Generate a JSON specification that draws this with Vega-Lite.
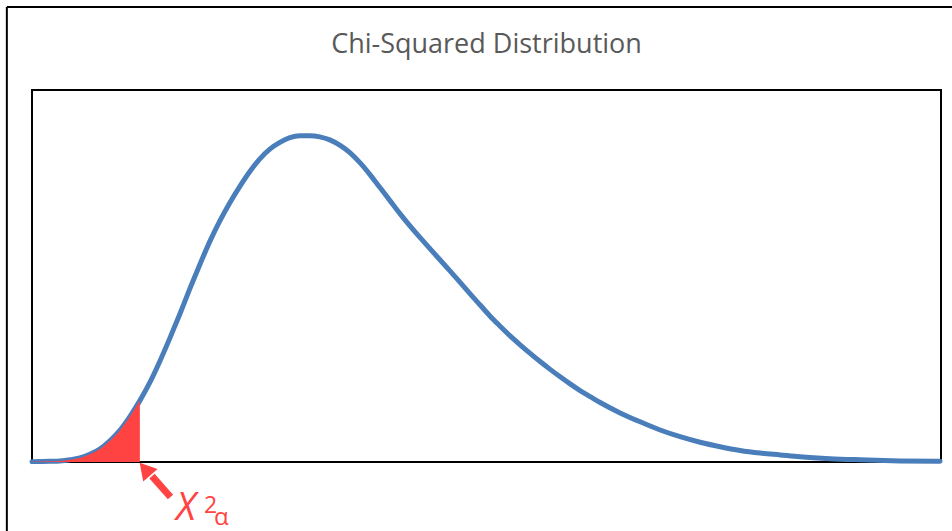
{
  "$schema": "https://vega.github.io/schema/vega-lite/v6.json",
  "autosize": "none",
  "width": 909,
  "height": 372,
  "padding": {"left": 32, "top": 90, "right": 11, "bottom": 69},
  "background": "white",
  "config": {
    "view": {"stroke": "#000000", "strokeWidth": 2},
    "axis": {"disable": true}
  },
  "datasets": {
    "curve": [
      {"x": 0, "y": 0.0001}, {"x": 0.59, "y": 0.0002}, {"x": 0.92, "y": 0.0003},
      {"x": 1.25, "y": 0.0006}, {"x": 1.58, "y": 0.0011}, {"x": 1.91, "y": 0.0021},
      {"x": 2.24, "y": 0.0035}, {"x": 2.57, "y": 0.0057}, {"x": 2.9, "y": 0.0085},
      {"x": 3.23, "y": 0.0122}, {"x": 3.56, "y": 0.0165}, {"x": 3.89, "y": 0.0214},
      {"x": 4.22, "y": 0.0271}, {"x": 4.55, "y": 0.0333}, {"x": 4.88, "y": 0.0398},
      {"x": 5.21, "y": 0.0466}, {"x": 5.54, "y": 0.0531}, {"x": 5.87, "y": 0.0593},
      {"x": 6.2, "y": 0.0648}, {"x": 6.53, "y": 0.0697}, {"x": 6.86, "y": 0.0741},
      {"x": 7.19, "y": 0.0781}, {"x": 7.52, "y": 0.0815}, {"x": 7.85, "y": 0.0841},
      {"x": 8.18, "y": 0.0859}, {"x": 8.51, "y": 0.0872}, {"x": 8.84, "y": 0.0877},
      {"x": 9.17, "y": 0.0877}, {"x": 9.5, "y": 0.0874}, {"x": 9.83, "y": 0.0866},
      {"x": 10.17, "y": 0.0851}, {"x": 10.5, "y": 0.0831}, {"x": 10.83, "y": 0.0804},
      {"x": 11.16, "y": 0.0772}, {"x": 11.49, "y": 0.0737}, {"x": 11.82, "y": 0.0702},
      {"x": 12.15, "y": 0.0667}, {"x": 12.48, "y": 0.0634}, {"x": 12.81, "y": 0.0603},
      {"x": 13.14, "y": 0.0573}, {"x": 13.47, "y": 0.0543}, {"x": 13.8, "y": 0.0513},
      {"x": 14.13, "y": 0.0483}, {"x": 14.46, "y": 0.0452}, {"x": 14.79, "y": 0.0422},
      {"x": 15.12, "y": 0.0392}, {"x": 15.45, "y": 0.0365}, {"x": 15.78, "y": 0.0339},
      {"x": 16.11, "y": 0.0315}, {"x": 16.44, "y": 0.0292}, {"x": 16.77, "y": 0.027},
      {"x": 17.1, "y": 0.0249}, {"x": 17.43, "y": 0.0229}, {"x": 17.76, "y": 0.021},
      {"x": 18.09, "y": 0.0192}, {"x": 18.42, "y": 0.0176}, {"x": 18.75, "y": 0.016},
      {"x": 19.41, "y": 0.0132}, {"x": 20.07, "y": 0.0108}, {"x": 20.73, "y": 0.0086},
      {"x": 21.39, "y": 0.0068}, {"x": 22.05, "y": 0.0053}, {"x": 22.71, "y": 0.0041},
      {"x": 23.37, "y": 0.0031}, {"x": 24.03, "y": 0.0024}, {"x": 24.69, "y": 0.0019},
      {"x": 25.35, "y": 0.0014}, {"x": 26.34, "y": 0.0009}, {"x": 27.33, "y": 0.0006},
      {"x": 28.65, "y": 0.0003}, {"x": 29.97, "y": 0.0002}
    ],
    "shade": [
      {"x": 0, "y": 0.0001}, {"x": 0.59, "y": 0.0002}, {"x": 0.92, "y": 0.0003},
      {"x": 1.25, "y": 0.0006}, {"x": 1.58, "y": 0.0011}, {"x": 1.91, "y": 0.0021},
      {"x": 2.24, "y": 0.0035}, {"x": 2.57, "y": 0.0057}, {"x": 2.9, "y": 0.0085},
      {"x": 3.23, "y": 0.0122}, {"x": 3.56, "y": 0.0165}
    ],
    "frameTop": [{"x": -0.83, "x2": 31, "y": 0.1223}],
    "frameLeft": [{"x": -0.83, "y": 0.1223, "y2": -0.03}],
    "arrowShaft": [{"x": 3.96, "y": -0.0038, "x2": 4.57, "y2": -0.0094}],
    "arrowHead": [{"x": 3.73, "y": -0.0019}],
    "titleText": [{"x": 15, "y": 0.1099, "text": "Chi-Squared Distribution"}],
    "labels": [
      {"part": "main", "x": 4.75, "y": -0.0156, "text": "X"},
      {"part": "sup", "x": 5.68, "y": -0.0137, "text": "2"},
      {"part": "sub", "x": 6.01, "y": -0.0169, "text": "α"}
    ]
  },
  "layer": [
    {
      "data": {"name": "frameTop"},
      "mark": {"type": "rule", "color": "#000000", "strokeWidth": 2},
      "encoding": {
        "x": {"field": "x", "type": "quantitative", "scale": {"domain": [0, 30], "nice": false, "zero": false}},
        "x2": {"field": "x2"},
        "y": {"field": "y", "type": "quantitative", "scale": {"domain": [0, 0.1], "nice": false, "zero": false}}
      }
    },
    {
      "data": {"name": "frameLeft"},
      "mark": {"type": "rule", "color": "#000000", "strokeWidth": 2},
      "encoding": {
        "x": {"field": "x", "type": "quantitative", "scale": {"domain": [0, 30], "nice": false, "zero": false}},
        "y": {"field": "y", "type": "quantitative", "scale": {"domain": [0, 0.1], "nice": false, "zero": false}},
        "y2": {"field": "y2"}
      }
    },
    {
      "data": {"name": "titleText"},
      "mark": {"type": "text", "font": "Open Sans", "fontSize": 27, "color": "#595959", "align": "center", "baseline": "alphabetic"},
      "encoding": {
        "x": {"field": "x", "type": "quantitative", "scale": {"domain": [0, 30], "nice": false, "zero": false}},
        "y": {"field": "y", "type": "quantitative", "scale": {"domain": [0, 0.1], "nice": false, "zero": false}},
        "text": {"field": "text"}
      }
    },
    {
      "data": {"name": "curve"},
      "mark": {"type": "line", "color": "#4a7ebb", "strokeWidth": 5, "interpolate": "monotone", "strokeCap": "round"},
      "encoding": {
        "x": {"field": "x", "type": "quantitative", "scale": {"domain": [0, 30], "nice": false, "zero": false}},
        "y": {"field": "y", "type": "quantitative", "scale": {"domain": [0, 0.1], "nice": false, "zero": false}}
      }
    },
    {
      "data": {"name": "shade"},
      "mark": {"type": "area", "color": "#ff4343", "opacity": 1, "interpolate": "monotone"},
      "encoding": {
        "x": {"field": "x", "type": "quantitative", "scale": {"domain": [0, 30], "nice": false, "zero": false}},
        "y": {"field": "y", "type": "quantitative", "scale": {"domain": [0, 0.1], "nice": false, "zero": false}},
        "y2": {"datum": 0}
      }
    },
    {
      "data": {"name": "arrowShaft"},
      "mark": {"type": "rule", "color": "#ff4343", "strokeWidth": 7, "strokeCap": "butt"},
      "encoding": {
        "x": {"field": "x", "type": "quantitative", "scale": {"domain": [0, 30], "nice": false, "zero": false}},
        "y": {"field": "y", "type": "quantitative", "scale": {"domain": [0, 0.1], "nice": false, "zero": false}},
        "x2": {"field": "x2"},
        "y2": {"field": "y2"}
      }
    },
    {
      "data": {"name": "arrowHead"},
      "mark": {"type": "point", "shape": "triangle-up", "filled": true, "color": "#ff4343", "opacity": 1, "size": 360, "angle": 319},
      "encoding": {
        "x": {"field": "x", "type": "quantitative", "scale": {"domain": [0, 30], "nice": false, "zero": false}},
        "y": {"field": "y", "type": "quantitative", "scale": {"domain": [0, 0.1], "nice": false, "zero": false}}
      }
    },
    {
      "data": {"name": "labels"},
      "transform": [{"filter": "datum.part === 'main'"}],
      "mark": {"type": "text", "font": "Open Sans", "fontSize": 38, "fontStyle": "italic", "color": "#ff4343", "align": "left", "baseline": "alphabetic"},
      "encoding": {
        "x": {"field": "x", "type": "quantitative", "scale": {"domain": [0, 30], "nice": false, "zero": false}},
        "y": {"field": "y", "type": "quantitative", "scale": {"domain": [0, 0.1], "nice": false, "zero": false}},
        "text": {"field": "text"}
      }
    },
    {
      "data": {"name": "labels"},
      "transform": [{"filter": "datum.part === 'sup'"}],
      "mark": {"type": "text", "font": "Open Sans", "fontSize": 23, "color": "#ff4343", "align": "left", "baseline": "alphabetic"},
      "encoding": {
        "x": {"field": "x", "type": "quantitative", "scale": {"domain": [0, 30], "nice": false, "zero": false}},
        "y": {"field": "y", "type": "quantitative", "scale": {"domain": [0, 0.1], "nice": false, "zero": false}},
        "text": {"field": "text"}
      }
    },
    {
      "data": {"name": "labels"},
      "transform": [{"filter": "datum.part === 'sub'"}],
      "mark": {"type": "text", "font": "Open Sans", "fontSize": 24, "color": "#ff4343", "align": "left", "baseline": "alphabetic"},
      "encoding": {
        "x": {"field": "x", "type": "quantitative", "scale": {"domain": [0, 30], "nice": false, "zero": false}},
        "y": {"field": "y", "type": "quantitative", "scale": {"domain": [0, 0.1], "nice": false, "zero": false}},
        "text": {"field": "text"}
      }
    }
  ]
}
